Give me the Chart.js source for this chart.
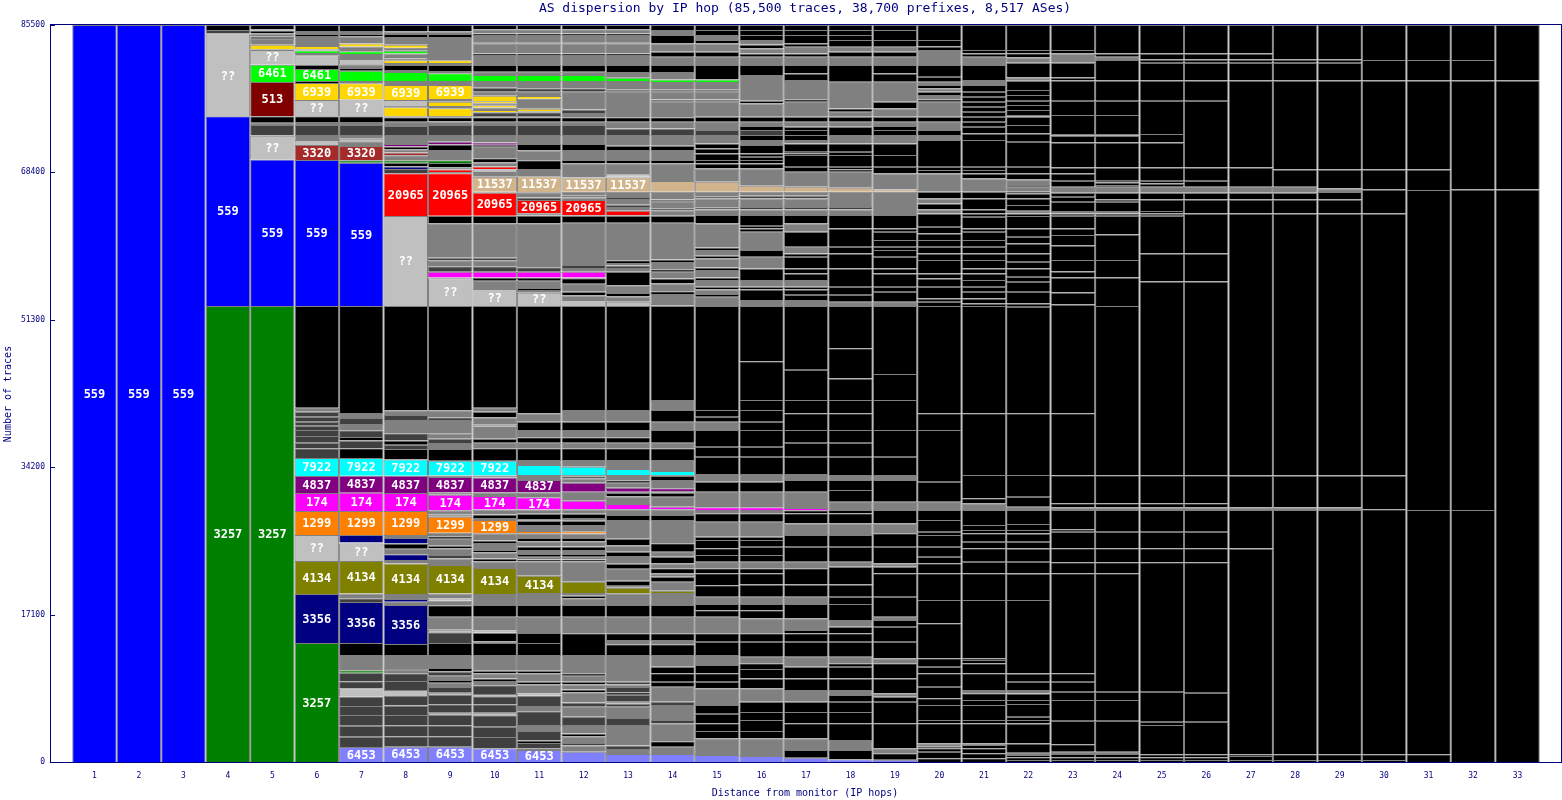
<!DOCTYPE html>
<html>
<head>
<meta charset="utf-8">
<script src="https://cdn.jsdelivr.net/npm/chart.js@4.4.1/dist/chart.umd.min.js"></script>
<style>
  html, body { margin: 0; padding: 0; background: #fff; }
  canvas { display: block; }
</style>
</head>
<body>
<canvas id="hops" width="1562" height="800"></canvas>
<script>
// Each hop: segments from the bottom up, [cumulative traces at top of segment, AS]
// 'k' = black, 'g' = grey (many small ASes), 'd' = dark grey, '??' = unknown AS
const hop01 = [[85500,'559']];
const hop02 = [[85500,'559']];
const hop03 = [[85500,'559']];
const hop04 = [[52900,'3257'],[74900,'559'],[84410,'??'],[84530,'g'],[84910,'d'],[85500,'k']];
const hop05 = [[52900,'3257'],[69900,'559'],[72650,'??'],[72730,'g'],[73890,'d'],[74150,'g'],[74900,'k'],[78900,'513'],[80900,'6461'],[82600,'??'],[82700,'g'],[83200,'6939'],[83900,'g'],[84150,'k'],[84500,'g'],[84850,'k'],[85000,'g'],[85500,'k']];
const hop06 = [[13800,'3257'],[19490,'3356'],[23320,'4134'],[26330,'??'],[29120,'1299'],[31200,'174'],[33180,'4837'],[35260,'7922'],[36385,'d'],[37042,'d'],[37816,'d'],[38512,'d'],[39015,'d'],[39479,'d'],[40059,'d'],[40639,'d'],[41100,'g'],[52900,'k'],[69840,'559'],[71570,'3320'],[72150,'??'],[72730,'g'],[73890,'d'],[74240,'g'],[74900,'k'],[76800,'??'],[78770,'6939'],[79000,'k'],[80400,'6461'],[80850,'k'],[82000,'??'],[82250,'g'],[82550,'6461'],[82700,'g'],[83060,'6939'],[84220,'g'],[84450,'k'],[84800,'g'],[85500,'k']];
const hop07 = [[1740,'6453'],[2935,'d'],[4211,'d'],[5452,'d'],[6496,'d'],[7600,'d'],[8550,'??'],[9380,'d'],[10350,'d'],[10650,'3257'],[12410,'g'],[13800,'k'],[18560,'3356'],[19000,'d'],[19550,'g'],[23320,'4134'],[25350,'??'],[25450,'g'],[26330,'3356'],[29120,'1299'],[31240,'174'],[33210,'4837'],[35270,'7922'],[36385,'k'],[37300,'d'],[37700,'k'],[38500,'d'],[39200,'g'],[39900,'d'],[40500,'g'],[52900,'k'],[69520,'559'],[69800,'3257'],[71450,'3320'],[72000,'g'],[72300,'??'],[72730,'g'],[73890,'d'],[74250,'g'],[74900,'k'],[76860,'??'],[78730,'6939'],[79000,'g'],[80200,'6461'],[80500,'k'],[80950,'g'],[81550,'??'],[82150,'g'],[82450,'6461'],[83000,'g'],[83350,'6939'],[84200,'g'],[84450,'k'],[84800,'g'],[85500,'k']];
const hop08 = [[1780,'6453'],[3000,'d'],[4250,'d'],[5450,'d'],[6550,'d'],[7660,'d'],[8350,'??'],[9400,'d'],[10300,'d'],[10700,'g'],[10900,'d'],[12400,'g'],[13700,'k'],[18210,'3356'],[18600,'g'],[18900,'3356'],[19500,'g'],[23040,'4134'],[23420,'g'],[24100,'3356'],[24750,'g'],[25350,'k'],[26000,'3356'],[26330,'g'],[29120,'1299'],[31200,'174'],[33200,'4837'],[35100,'7922'],[36307,'k'],[36800,'d'],[37300,'k'],[38125,'d'],[39672,'g'],[40250,'d'],[40800,'g'],[52900,'k'],[63350,'??'],[68290,'20965'],[68780,'d'],[69080,'3356'],[69530,'k'],[69810,'3257'],[70400,'g'],[70700,'3320'],[71100,'g'],[71400,'k'],[71700,'4837'],[72730,'g'],[73780,'d'],[74280,'g'],[74790,'k'],[74900,'g'],[75950,'6939'],[76100,'g'],[76800,'??'],[78530,'6939'],[79000,'g'],[80060,'6461'],[80270,'g'],[80850,'k'],[81100,'g'],[81400,'6939'],[81550,'g'],[81800,'??'],[82200,'g'],[82500,'6461'],[82850,'g'],[83200,'6939'],[84100,'g'],[84450,'k'],[84750,'g'],[85500,'k']];
const hop09 = [[1780,'6453'],[3000,'d'],[4250,'d'],[5450,'d'],[5700,'??'],[6700,'d'],[7780,'d'],[8040,'??'],[8700,'d'],[9200,'g'],[9500,'k'],[10000,'g'],[10500,'d'],[10900,'k'],[12400,'g'],[13800,'k'],[15050,'d'],[15330,'??'],[16860,'g'],[18180,'k'],[18700,'g'],[18980,'??'],[19550,'g'],[22850,'4134'],[23600,'g'],[24000,'d'],[24800,'g'],[25100,'k'],[25900,'g'],[26200,'k'],[26600,'g'],[28450,'1299'],[28700,'g'],[28900,'d'],[29200,'g'],[31000,'174'],[31300,'g'],[33050,'4837'],[33250,'g'],[34950,'7922'],[36307,'k'],[37000,'g'],[37500,'d'],[38125,'g'],[39672,'g'],[40000,'d'],[40800,'g'],[52900,'k'],[56110,'??'],[56200,'g'],[56870,'174'],[57500,'d'],[58200,'g'],[58500,'d'],[62490,'g'],[63370,'k'],[68290,'20965'],[68450,'g'],[68750,'20965'],[69000,'g'],[69500,'k'],[69800,'3257'],[70990,'g'],[71650,'k'],[71950,'4837'],[72730,'g'],[73890,'d'],[74300,'g'],[74800,'k'],[74950,'g'],[75830,'6939'],[76100,'g'],[76600,'6939'],[76910,'g'],[78530,'6939'],[79000,'g'],[79890,'6461'],[80160,'g'],[80850,'k'],[81100,'g'],[81400,'6939'],[84100,'g'],[84450,'k'],[84750,'g'],[85500,'k']];
const hop10 = [[1590,'6453'],[2900,'d'],[4100,'d'],[5420,'d'],[5700,'??'],[6700,'d'],[7620,'d'],[7900,'??'],[8900,'d'],[9400,'g'],[9700,'k'],[10300,'g'],[10600,'k'],[12400,'g'],[13800,'k'],[14000,'g'],[14980,'k'],[15260,'??'],[16850,'g'],[18200,'k'],[19500,'g'],[22500,'4134'],[23250,'g'],[23600,'k'],[24300,'g'],[24600,'k'],[25400,'g'],[25700,'k'],[26530,'g'],[28070,'1299'],[28300,'g'],[28700,'k'],[29300,'g'],[30850,'174'],[31300,'g'],[33000,'4837'],[33250,'g'],[34950,'7922'],[36385,'k'],[37042,'g'],[37500,'k'],[38850,'g'],[39130,'??'],[40000,'g'],[40639,'k'],[41100,'g'],[52900,'k'],[54870,'??'],[55830,'g'],[56220,'k'],[56870,'174'],[57500,'d'],[58200,'g'],[58500,'d'],[62490,'g'],[63370,'k'],[66040,'20965'],[66160,'g'],[67900,'11537'],[68450,'g'],[68750,'??'],[68800,'g'],[69080,'20965'],[69540,'g'],[70040,'k'],[71380,'g'],[71600,'k'],[71880,'4837'],[72730,'g'],[73890,'d'],[74280,'g'],[74790,'k'],[74940,'g'],[75390,'d'],[75650,'6939'],[75930,'g'],[76200,'6939'],[76420,'g'],[76650,'6939'],[77300,'6939'],[77760,'g'],[78230,'d'],[79000,'g'],[79690,'6461'],[80080,'g'],[80850,'k'],[82010,'g'],[82200,'k'],[83370,'g'],[83500,'k'],[84330,'g'],[84500,'k'],[85000,'g'],[85500,'k']];
const hop11 = [[1390,'6453'],[1600,'g'],[2200,'d'],[2500,'k'],[3600,'d'],[4300,'g'],[5900,'d'],[6500,'g'],[7700,'d'],[7950,'??'],[9000,'g'],[9300,'k'],[10300,'g'],[10600,'k'],[12400,'g'],[13800,'k'],[14970,'k'],[16850,'g'],[18210,'k'],[19600,'g'],[21610,'4134'],[23300,'g'],[23500,'k'],[23820,'g'],[24130,'k'],[24600,'g'],[25000,'k'],[25600,'g'],[26000,'k'],[26530,'g'],[26800,'1299'],[27500,'g'],[28000,'k'],[28200,'g'],[28800,'k'],[29300,'g'],[30700,'174'],[31300,'g'],[32710,'4837'],[33300,'g'],[34450,'7922'],[35032,'g'],[36385,'k'],[37042,'g'],[37661,'k'],[38512,'g'],[39479,'k'],[40445,'g'],[52900,'k'],[54440,'??'],[54750,'g'],[54980,'k'],[55830,'g'],[56220,'k'],[56870,'174'],[57400,'d'],[62490,'g'],[63400,'k'],[63650,'g'],[65190,'20965'],[65500,'d'],[66100,'g'],[67950,'11537'],[68800,'g'],[69800,'k'],[70950,'g'],[71700,'k'],[72730,'g'],[73890,'d'],[74280,'g'],[74790,'k'],[74940,'g'],[75390,'d'],[75500,'g'],[75780,'6939'],[76950,'g'],[77260,'6939'],[77760,'g'],[78150,'d'],[79000,'g'],[79690,'6461'],[80080,'g'],[80850,'k'],[82010,'g'],[82200,'k'],[83370,'g'],[83500,'k'],[84330,'g'],[84500,'k'],[85000,'g'],[85500,'k']];
const hop12 = [[1200,'6453'],[1900,'g'],[2200,'d'],[3000,'g'],[3300,'k'],[4290,'g'],[5260,'d'],[6400,'g'],[6900,'d'],[8100,'g'],[8400,'k'],[9000,'g'],[9300,'k'],[10000,'g'],[10300,'k'],[12400,'g'],[14950,'k'],[16850,'g'],[18200,'k'],[19000,'g'],[19300,'k'],[19600,'g'],[20900,'4134'],[23300,'g'],[23500,'k'],[23820,'g'],[24130,'k'],[24600,'g'],[25000,'k'],[25600,'g'],[26000,'k'],[26500,'g'],[26780,'1299'],[27500,'g'],[28000,'k'],[28300,'g'],[28800,'k'],[29310,'g'],[30310,'174'],[31350,'g'],[32400,'4837'],[32900,'g'],[33100,'k'],[33290,'g'],[34250,'7922'],[35032,'g'],[36385,'k'],[37042,'g'],[37661,'k'],[38512,'g'],[39479,'k'],[40832,'g'],[52900,'k'],[53590,'??'],[54130,'g'],[54560,'k'],[55490,'g'],[56110,'k'],[56220,'g'],[56870,'174'],[57300,'g'],[57650,'d'],[62560,'g'],[63370,'k'],[63450,'g'],[65190,'20965'],[65500,'g'],[65700,'d'],[66160,'g'],[67820,'11537'],[69450,'g'],[69830,'k'],[71000,'g'],[71700,'k'],[72730,'g'],[73890,'d'],[74280,'g'],[74790,'k'],[75300,'g'],[75700,'d'],[77760,'g'],[78150,'d'],[79000,'g'],[79690,'6461'],[80080,'g'],[80850,'k'],[82010,'g'],[82200,'k'],[83370,'g'],[83500,'k'],[84330,'g'],[84500,'k'],[85000,'g'],[85500,'k']];
const hop13 = [[930,'6453'],[1500,'g'],[1900,'d'],[4300,'g'],[5100,'d'],[6400,'g'],[6800,'d'],[7000,'g'],[7800,'d'],[8100,'k'],[8700,'d'],[9000,'g'],[9300,'d'],[12400,'g'],[13650,'k'],[14150,'g'],[14950,'k'],[16860,'g'],[18210,'k'],[19570,'g'],[20220,'4134'],[20450,'g'],[21030,'k'],[22430,'g'],[23000,'k'],[23900,'g'],[24400,'k'],[25130,'g'],[25900,'k'],[28070,'g'],[28650,'k'],[29310,'g'],[29930,'174'],[30800,'g'],[31200,'k'],[31350,'g'],[31820,'4837'],[32400,'g'],[32700,'k'],[33290,'g'],[33990,'7922'],[35032,'g'],[36385,'k'],[37042,'g'],[37661,'k'],[38512,'g'],[39479,'k'],[40832,'g'],[52900,'k'],[53400,'??'],[54000,'g'],[54400,'k'],[55300,'g'],[56870,'k'],[57300,'g'],[57600,'d'],[57900,'g'],[58200,'k'],[62560,'g'],[63370,'k'],[63450,'g'],[63960,'20965'],[64400,'g'],[64650,'d'],[65300,'g'],[65550,'d'],[66160,'g'],[67820,'11537'],[67900,'g'],[68180,'??'],[69450,'g'],[69830,'k'],[71000,'g'],[71500,'k'],[72730,'g'],[73500,'d'],[74280,'g'],[74790,'k'],[77760,'g'],[78000,'d'],[79000,'g'],[79380,'6461'],[80040,'g'],[80850,'k'],[82010,'g'],[82200,'k'],[83370,'g'],[83500,'k'],[84330,'g'],[84500,'k'],[85000,'g'],[85500,'k']];
const hop14 = [[924,'6453'],[1775,'g'],[2400,'k'],[4482,'g'],[4869,'d'],[6609,'g'],[6996,'d'],[8736,'g'],[9316,'k'],[10283,'k'],[11056,'k'],[12409,'g'],[13646,'k'],[14149,'g'],[14923,'k'],[16856,'g'],[18210,'k'],[19600,'g'],[19880,'4134'],[20920,'g'],[21497,'k'],[21884,'g'],[22464,'k'],[23044,'g'],[23817,'k'],[24404,'g'],[25364,'k'],[28071,'g'],[28650,'k'],[29308,'g'],[29618,'174'],[30778,'g'],[31242,'k'],[31435,'g'],[31745,'4837'],[32711,'g'],[33175,'k'],[33291,'g'],[33755,'7922'],[35032,'g'],[36385,'k'],[37042,'g'],[38512,'k'],[39479,'g'],[40832,'k'],[41992,'g'],[52900,'k'],[53130,'??'],[54300,'g'],[54600,'k'],[55500,'g'],[56100,'k'],[56870,'g'],[57170,'k'],[58000,'g'],[58300,'k'],[62560,'g'],[63370,'k'],[64000,'g'],[64250,'d'],[65000,'g'],[65250,'d'],[66160,'g'],[67400,'11537'],[69450,'g'],[69830,'k'],[71000,'g'],[71500,'k'],[72730,'g'],[73500,'d'],[74280,'g'],[74790,'k'],[76600,'g'],[76850,'d'],[77760,'g'],[78000,'d'],[78900,'g'],[79180,'6461'],[80040,'g'],[80851,'k'],[81818,'g'],[82398,'k'],[83365,'g'],[84332,'k'],[84912,'g'],[85500,'k']];
const hop15 = [[808,'6453'],[2742,'g'],[3600,'k'],[4482,'k'],[5600,'k'],[6609,'k'],[8542,'g'],[9316,'k'],[10283,'k'],[11249,'k'],[12409,'g'],[13956,'k'],[14923,'k'],[16856,'g'],[17600,'k'],[18326,'k'],[19177,'g'],[20500,'k'],[21884,'k'],[22464,'k'],[23237,'g'],[24000,'k'],[24784,'k'],[25751,'k'],[26137,'k'],[27878,'g'],[28844,'k'],[29231,'g'],[29540,'174'],[31358,'g'],[32518,'k'],[33407,'g'],[35418,'k'],[36578,'k'],[38512,'k'],[39479,'g'],[40059,'k'],[40832,'k'],[52900,'k'],[53976,'g'],[54280,'k'],[54826,'g'],[55130,'k'],[55909,'g'],[56210,'k'],[57070,'g'],[57370,'k'],[58423,'g'],[58720,'k'],[59390,'g'],[59690,'k'],[62483,'g'],[63450,'k'],[64108,'g'],[64350,'d'],[65384,'g'],[65630,'d'],[66157,'g'],[67317,'11537'],[68864,'g'],[69444,'k'],[69831,'k'],[70604,'k'],[71184,'k'],[71764,'k'],[72731,'g'],[73311,'d'],[74278,'g'],[74858,'k'],[76598,'g'],[76850,'d'],[77758,'g'],[78000,'d'],[78900,'g'],[79180,'6461'],[80851,'k'],[81818,'g'],[82398,'k'],[83365,'g'],[83752,'k'],[84332,'g'],[84912,'k'],[85500,'k']];
const hop16 = [[692,'6453'],[2742,'g'],[3600,'k'],[4869,'k'],[5800,'k'],[6996,'k'],[8542,'g'],[9700,'k'],[10800,'k'],[11443,'k'],[12216,'g'],[13956,'k'],[14923,'k'],[16663,'g'],[17600,'k'],[18326,'k'],[19177,'g'],[20600,'k'],[21884,'k'],[22464,'k'],[23237,'g'],[24000,'k'],[24977,'k'],[25751,'k'],[26137,'k'],[27878,'g'],[28844,'k'],[29231,'g'],[29540,'174'],[31358,'g'],[32518,'k'],[33407,'g'],[35418,'k'],[36578,'k'],[38512,'k'],[39479,'k'],[40832,'k'],[41992,'k'],[46500,'k'],[52900,'k'],[53589,'g'],[54826,'k'],[55136,'k'],[55909,'g'],[57263,'k'],[58616,'g'],[59390,'k'],[61517,'g'],[61904,'k'],[62200,'k'],[63450,'k'],[64108,'g'],[64400,'d'],[65384,'g'],[65680,'d'],[66157,'g'],[66853,'11537'],[68864,'g'],[69444,'k'],[69831,'k'],[70217,'k'],[70604,'k'],[71571,'k'],[72151,'g'],[72731,'k'],[73311,'d'],[73775,'k'],[74278,'g'],[74858,'k'],[76404,'g'],[76700,'k'],[79692,'g'],[80851,'k'],[81818,'g'],[82205,'k'],[82785,'g'],[83249,'k'],[83752,'g'],[84332,'k'],[84912,'k'],[85500,'k']];
const hop17 = [[499,'6453'],[1388,'k'],[2742,'g'],[4482,'k'],[5800,'k'],[6996,'k'],[8349,'g'],[9700,'k'],[11056,'k'],[12216,'g'],[13956,'k'],[14923,'k'],[15309,'k'],[16663,'g'],[18326,'k'],[19177,'g'],[20600,'k'],[22464,'k'],[23237,'g'],[24977,'k'],[26331,'k'],[27684,'g'],[28844,'k'],[29200,'k'],[29480,'174'],[31358,'g'],[32711,'k'],[33407,'g'],[35418,'k'],[37042,'k'],[38512,'k'],[40445,'k'],[41992,'k'],[45500,'k'],[52900,'k'],[53589,'g'],[54200,'k'],[54826,'k'],[55136,'k'],[55909,'g'],[56683,'k'],[57263,'k'],[58616,'k'],[59003,'k'],[59777,'g'],[61517,'k'],[62483,'g'],[63450,'k'],[64108,'g'],[64400,'d'],[65384,'g'],[65680,'d'],[66157,'g'],[66737,'11537'],[68477,'g'],[69057,'k'],[70411,'k'],[70604,'k'],[70797,'k'],[71764,'k'],[72151,'g'],[72731,'k'],[73311,'k'],[73698,'k'],[74278,'g'],[74858,'k'],[76598,'g'],[76900,'k'],[79111,'g'],[79885,'k'],[80851,'k'],[81818,'g'],[82205,'k'],[82978,'g'],[83365,'k'],[84332,'k'],[84912,'k'],[85500,'k']];
const hop18 = [[306,'6453'],[1388,'k'],[2548,'g'],[4482,'k'],[5800,'k'],[6996,'k'],[7769,'k'],[8349,'g'],[9700,'k'],[11056,'k'],[11443,'k'],[12216,'g'],[13956,'k'],[14923,'k'],[15696,'k'],[16470,'g'],[18326,'k'],[19177,'k'],[20600,'k'],[22657,'k'],[23237,'g'],[24977,'k'],[26331,'k'],[27684,'g'],[28844,'k'],[29231,'k'],[30197,'g'],[31551,'k'],[32711,'k'],[33291,'g'],[35418,'k'],[37042,'k'],[38512,'k'],[40445,'k'],[41992,'k'],[44500,'k'],[48000,'k'],[52900,'k'],[53396,'g'],[54200,'k'],[55136,'k'],[57263,'k'],[59003,'k'],[59777,'k'],[61904,'k'],[63450,'k'],[64108,'g'],[64400,'d'],[66157,'g'],[66621,'11537'],[68477,'g'],[68771,'k'],[69057,'k'],[70411,'k'],[70797,'k'],[71764,'k'],[72731,'g'],[73698,'k'],[74278,'g'],[74858,'k'],[75438,'g'],[75824,'k'],[78918,'g'],[80851,'k'],[81818,'g'],[82398,'k'],[82978,'g'],[83752,'k'],[84332,'k'],[84912,'k'],[85500,'k']];
const hop19 = [[250,'6453'],[1002,'k'],[1582,'g'],[4482,'k'],[6996,'k'],[7576,'k'],[7962,'g'],[9700,'k'],[11443,'k'],[12023,'g'],[13956,'k'],[15696,'k'],[16470,'k'],[16856,'g'],[19177,'k'],[21884,'k'],[22657,'k'],[23044,'g'],[24977,'k'],[26524,'k'],[27684,'g'],[29231,'k'],[30197,'g'],[32711,'k'],[33291,'g'],[35418,'k'],[38512,'k'],[41992,'k'],[45000,'k'],[52900,'k'],[53396,'g'],[54556,'k'],[55136,'k'],[56683,'k'],[57263,'k'],[58616,'k'],[59390,'k'],[59777,'k'],[60550,'k'],[61517,'k'],[61904,'k'],[63450,'k'],[66157,'g'],[66420,'11537'],[68284,'g'],[69057,'k'],[70411,'k'],[71764,'k'],[72731,'g'],[73311,'k'],[73775,'k'],[74278,'g'],[74858,'k'],[75824,'g'],[76598,'k'],[78918,'g'],[79885,'k'],[80851,'k'],[81818,'g'],[82398,'k'],[82978,'g'],[83752,'k'],[84912,'k'],[85500,'k']];
const hop20 = [[422,'k'],[1195,'k'],[1582,'k'],[1775,'k'],[2162,'g'],[4482,'k'],[4869,'k'],[6609,'k'],[7383,'k'],[8736,'k'],[10283,'k'],[11056,'k'],[12023,'k'],[16083,'k'],[18790,'k'],[21884,'k'],[23044,'k'],[23817,'k'],[24977,'k'],[26331,'k'],[26717,'k'],[28071,'k'],[29231,'k'],[30197,'g'],[32518,'k'],[38512,'k'],[40445,'k'],[52900,'k'],[53396,'k'],[53783,'k'],[55136,'k'],[56103,'k'],[56683,'k'],[58230,'k'],[59003,'k'],[59777,'k'],[60550,'k'],[61324,'k'],[62096,'k'],[63643,'k'],[64108,'g'],[64800,'k'],[65384,'g'],[66157,'k'],[68284,'g'],[68671,'k'],[69057,'k'],[72151,'k'],[72731,'g'],[73311,'k'],[74278,'g'],[74858,'k'],[76598,'g'],[76900,'k'],[77370,'g'],[77760,'k'],[78150,'g'],[78531,'k'],[78918,'g'],[79498,'k'],[80851,'k'],[82592,'g'],[83017,'k'],[83752,'k'],[85500,'k']];
const hop21 = [[422,'k'],[1002,'k'],[1582,'k'],[1968,'k'],[2162,'g'],[4482,'k'],[4869,'k'],[6609,'k'],[7189,'k'],[7962,'k'],[8349,'g'],[10283,'k'],[11443,'k'],[11830,'k'],[12023,'k'],[18790,'k'],[21884,'k'],[23237,'k'],[24784,'k'],[25557,'k'],[26524,'k'],[26911,'k'],[27491,'k'],[29231,'k'],[30004,'g'],[30584,'k'],[33291,'k'],[40445,'k'],[52900,'k'],[53203,'k'],[53783,'k'],[54556,'k'],[55136,'k'],[55909,'k'],[56683,'k'],[57263,'k'],[58230,'k'],[59003,'k'],[59777,'k'],[60550,'k'],[61517,'k'],[61904,'k'],[63257,'k'],[63643,'k'],[64108,'k'],[65384,'k'],[66157,'k'],[67704,'g'],[68284,'k'],[68671,'k'],[69057,'k'],[72151,'k'],[72924,'k'],[73698,'k'],[74278,'k'],[74858,'k'],[75438,'k'],[76018,'k'],[76598,'k'],[77178,'k'],[77758,'k'],[78531,'k'],[79111,'g'],[80851,'k'],[81818,'g'],[82205,'k'],[82592,'k'],[85500,'k']];
const hop22 = [[230,'k'],[540,'k'],[810,'k'],[1080,'g'],[2160,'k'],[4480,'k'],[4870,'k'],[5260,'k'],[6730,'k'],[7190,'k'],[7960,'k'],[8350,'g'],[9320,'k'],[10280,'k'],[18790,'k'],[21880,'k'],[23240,'k'],[24780,'k'],[25560,'k'],[26520,'k'],[26910,'k'],[27610,'k'],[29230,'k'],[29620,'g'],[30780,'k'],[33290,'k'],[40450,'k'],[52820,'k'],[53200,'k'],[54560,'k'],[55720,'k'],[56300,'k'],[57260,'k'],[58040,'k'],[59000,'k'],[60160,'k'],[60940,'k'],[61900,'k'],[63330,'k'],[63640,'k'],[63950,'g'],[64610,'k'],[65380,'k'],[65960,'k'],[66160,'k'],[66740,'g'],[66930,'k'],[67590,'g'],[68280,'k'],[69060,'k'],[71960,'k'],[72920,'k'],[73890,'k'],[74860,'k'],[75050,'g'],[75630,'k'],[76210,'k'],[76710,'k'],[77370,'k'],[77950,'k'],[79030,'k'],[79420,'g'],[81120,'k'],[81740,'g'],[82210,'k'],[82590,'k'],[85500,'k']];
const hop23 = [[228,'k'],[537,'k'],[924,'k'],[1195,'g'],[2047,'k'],[4792,'k'],[7189,'k'],[8156,'k'],[9316,'k'],[10283,'k'],[21884,'k'],[23160,'k'],[24784,'k'],[26717,'k'],[26988,'k'],[29231,'k'],[29540,'g'],[30004,'k'],[33253,'k'],[40445,'k'],[53087,'k'],[54479,'k'],[56219,'k'],[56914,'k'],[58230,'k'],[59931,'k'],[61130,'k'],[61904,'k'],[63373,'k'],[63643,'k'],[63914,'g'],[64997,'k'],[65577,'k'],[66041,'k'],[66737,'g'],[67433,'k'],[68284,'k'],[68980,'k'],[71880,'k'],[72653,'k'],[72847,'g'],[75051,'k'],[76714,'k'],[79073,'k'],[79421,'k'],[81122,'k'],[82205,'g'],[82592,'k'],[85500,'k']];
const hop24 = [[228,'k'],[537,'k'],[924,'k'],[1195,'g'],[4792,'k'],[7189,'k'],[8156,'k'],[21884,'k'],[23160,'k'],[24784,'k'],[26717,'k'],[29231,'k'],[29540,'g'],[30004,'k'],[33253,'k'],[52894,'k'],[56219,'k'],[58230,'k'],[61207,'k'],[63373,'k'],[63643,'k'],[63914,'g'],[64997,'k'],[65268,'k'],[66041,'k'],[66737,'g'],[66931,'k'],[67240,'k'],[67433,'k'],[68980,'k'],[71880,'k'],[72653,'k'],[72847,'g'],[75051,'k'],[76714,'k'],[79073,'k'],[81432,'k'],[81818,'g'],[82205,'k'],[85500,'k']];
const hop25 = [[228,'k'],[537,'k'],[890,'k'],[4289,'k'],[4676,'k'],[8156,'k'],[23160,'k'],[24784,'k'],[26717,'k'],[29231,'k'],[29540,'g'],[30004,'k'],[33253,'k'],[55757,'k'],[59003,'k'],[63373,'k'],[63643,'k'],[63914,'k'],[65268,'k'],[66041,'k'],[66737,'g'],[67124,'k'],[67433,'k'],[68980,'k'],[71880,'k'],[72847,'k'],[76714,'k'],[79073,'k'],[81122,'k'],[81509,'k'],[82205,'k'],[85500,'k']];
const hop26 = [[228,'k'],[537,'k'],[890,'k'],[4676,'k'],[8040,'k'],[23160,'k'],[24784,'k'],[26717,'k'],[29231,'k'],[29540,'g'],[30004,'k'],[33253,'k'],[55757,'k'],[59003,'k'],[63643,'k'],[65268,'k'],[66041,'k'],[66737,'g'],[67433,'k'],[68980,'k'],[76714,'k'],[79073,'k'],[81122,'k'],[81509,'k'],[82205,'k'],[85500,'k']];
const hop27 = [[230,'k'],[700,'k'],[890,'k'],[24780,'k'],[29230,'k'],[29540,'g'],[33250,'k'],[63640,'k'],[65270,'k'],[66040,'k'],[66740,'g'],[68980,'k'],[79070,'k'],[81120,'k'],[81510,'k'],[82200,'k'],[85500,'k']];
const hop28 = [[230,'k'],[890,'k'],[29230,'k'],[29540,'g'],[33250,'k'],[63640,'k'],[65270,'k'],[66040,'k'],[66740,'g'],[68750,'k'],[79070,'k'],[81120,'k'],[81510,'k'],[85500,'k']];
const hop29 = [[230,'k'],[890,'k'],[29230,'k'],[29540,'g'],[33250,'k'],[63640,'k'],[65270,'k'],[66120,'k'],[66540,'g'],[68750,'k'],[79070,'k'],[81120,'k'],[81510,'k'],[85500,'k']];
const hop30 = [[230,'k'],[890,'k'],[29310,'k'],[33250,'k'],[63640,'k'],[66430,'k'],[68750,'k'],[79070,'k'],[81430,'k'],[85500,'k']];
const hop31 = [[890,'k'],[29230,'k'],[66350,'k'],[68750,'k'],[79070,'k'],[81430,'k'],[85500,'k']];
const hop32 = [[29230,'k'],[66430,'k'],[79070,'k'],[81430,'k'],[85500,'k']];
const hop33 = [[66430,'k'],[79070,'k'],[85500,'k']];

const hops = [hop01, hop02, hop03, hop04, hop05, hop06, hop07, hop08, hop09, hop10, hop11,
  hop12, hop13, hop14, hop15, hop16, hop17, hop18, hop19, hop20, hop21, hop22,
  hop23, hop24, hop25, hop26, hop27, hop28, hop29, hop30, hop31, hop32, hop33];
const hopNumbers = hops.map((_, i) => i + 1);
const yTicks = [0, 17100, 34200, 51300, 68400, 85500];
const totalTraces = 85500;

const asColors = {
  '559': '#0000ff', '3257': '#008000', '??': '#c0c0c0', '513': '#800000',
  '6461': '#00ff00', '6939': '#ffd700', '3320': '#a52a2a', '20965': '#ff0000',
  '11537': '#d2b48c', '7922': '#00ffff', '4837': '#800080', '174': '#ff00ff',
  '1299': '#ff8000', '4134': '#808000', '3356': '#000080', '6453': '#8080ff',
  k: '#000000', g: '#808080', d: '#404040'
};
const unlabelled = ['k', 'g', 'd'];
const navy = '#000080';
const mono = "'DejaVu Sans Mono', 'Liberation Mono', monospace";

// one dataset per segment level, floating bars [bottom, top]
const maxSegs = Math.max(...hops.map(h => h.length));
const datasets = [];
for (let j = 0; j < maxSegs; j++) {
  const pts = [];
  hops.forEach((segs, i) => {
    if (j < segs.length) {
      const lo = j === 0 ? 0 : segs[j - 1][0];
      pts.push({ x: hopNumbers[i], y: [lo, segs[j][0]], as: segs[j][1] });
    }
  });
  datasets.push({
    data: pts,
    grouped: false,
    barPercentage: 1,
    categoryPercentage: 1,
    inflateAmount: 0,
    borderSkipped: false,
    borderWidth: { top: 1, left: 1, right: 1, bottom: 0 },
    borderColor: '#808080',
    backgroundColor: c => (c.raw ? asColors[c.raw.as] : '#000')
  });
}

const frame = {
  id: 'frame',
  beforeDatasetsDraw(chart) {
    const { ctx, chartArea: a } = chart;
    ctx.save();
    ctx.strokeStyle = navy;
    ctx.lineWidth = 1;
    ctx.strokeRect(a.left + 0.5, a.top - 0.5, a.right - a.left - 1, a.bottom - a.top + 1);
    ctx.restore();
  },
  afterDatasetsDraw(chart) {
    const { ctx, chartArea: a, scales } = chart;
    ctx.save();
    // AS labels
    ctx.fillStyle = '#fff';
    ctx.font = 'bold 12px ' + mono;
    ctx.textAlign = 'center';
    ctx.textBaseline = 'middle';
    chart.data.datasets.forEach((ds, di) => {
      chart.getDatasetMeta(di).data.forEach((bar, k) => {
        const seg = ds.data[k];
        if (unlabelled.includes(seg.as)) return;
        const p = bar.getProps(['x', 'y', 'base'], true);
        if (Math.abs(p.base - p.y) < 11.5) return;
        ctx.fillText(seg.as, p.x, (p.y + p.base) / 2 + 1);
      });
    });
    // axes
    ctx.strokeStyle = navy;
    ctx.beginPath();
    ctx.moveTo(a.left + 0.5, a.top);
    ctx.lineTo(a.left + 0.5, a.bottom + 1);
    ctx.moveTo(a.left, a.bottom + 0.5);
    ctx.lineTo(a.right, a.bottom + 0.5);
    yTicks.forEach(v => {
      const y = Math.round(scales.y.getPixelForValue(v)) + 0.5;
      ctx.moveTo(a.left, y);
      ctx.lineTo(a.left + 5, y);
    });
    ctx.stroke();
    ctx.restore();
  },
  afterDraw(chart) {
    const { ctx } = chart;
    ctx.save();
    ctx.fillStyle = navy;
    ctx.textAlign = 'center';
    ctx.textBaseline = 'middle';
    ctx.font = '13px ' + mono;
    ctx.fillText('AS dispersion by IP hop (85,500 traces, 38,700 prefixes, 8,517 ASes)', 805, 9);
    ctx.font = '10px ' + mono;
    ctx.fillText('Distance from monitor (IP hops)', 805, 793);
    ctx.translate(8, 394);
    ctx.rotate(-Math.PI / 2);
    ctx.fillText('Number of traces', 0, 0);
    ctx.restore();
  }
};

new Chart(document.getElementById('hops').getContext('2d'), {
  type: 'bar',
  data: { datasets },
  plugins: [frame],
  options: {
    responsive: false,
    animation: false,
    devicePixelRatio: 1,
    events: [],
    layout: { padding: { top: 25, left: 0, right: 0, bottom: 0 } },
    plugins: { legend: { display: false }, tooltip: { enabled: false } },
    scales: {
      x: {
        type: 'linear', min: 0, max: 34, offset: false,
        grid: { display: false, drawTicks: false },
        border: { display: false },
        ticks: { color: navy, font: { family: mono, size: 8 }, padding: 9, maxRotation: 0, autoSkip: false },
        afterBuildTicks: s => { s.ticks = hopNumbers.map(v => ({ value: v })); },
        afterFit: s => { s.height = 38; }
      },
      y: {
        type: 'linear', min: 0, max: totalTraces,
        grid: { display: false, drawTicks: false },
        border: { display: false },
        ticks: { color: navy, font: { family: mono, size: 8 }, padding: 5, callback: v => String(v) },
        afterBuildTicks: s => { s.ticks = yTicks.map(v => ({ value: v })); },
        afterFit: s => { s.width = 50; }
      }
    }
  }
});
</script>
</body>
</html>
